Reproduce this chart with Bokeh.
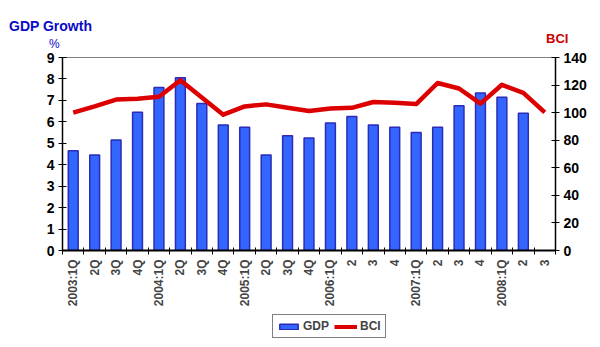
import math
from bokeh.plotting import figure
from bokeh.layouts import column
from bokeh.models import (Range1d, LinearAxis, FixedTicker, Legend, LegendItem, Div)
from bokeh.embed import file_html
from bokeh.resources import INLINE

quarters = ["2003:1Q", "2Q", "3Q", "4Q", "2004:1Q", "2Q", "3Q", "4Q",
            "2005:1Q", "2Q", "3Q", "4Q", "2006:1Q", "2", "3", "4",
            "2007:1Q", "2", "3", "4", "2008:1Q", "2", "3"]
gdp = [4.65, 4.45, 5.15, 6.45, 7.6, 8.05, 6.85, 5.85, 5.75, 4.45, 5.35, 5.25,
       5.95, 6.25, 5.85, 5.75, 5.5, 5.75, 6.75, 7.35, 7.15, 6.4]
bci = [100, 104.5, 109.5, 110, 111.5, 123.5, 111, 98.5, 104.5, 106, 103.5, 101.2,
       103, 103.5, 107.7, 107.2, 106.2, 121.5, 117.5, 106.5, 120.2, 114.4, 100.2]

FONT = "Arial"
BAR_FILL = "#3366FF"
BAR_LINE = "#2B2BB8"
LINE_COLOR = "#DD0000"

xs_gdp = list(range(len(gdp)))
xs_bci = list(range(len(bci)))

# header strip with the titles
header_html = (
    '<div style="position:relative;width:600px;height:50px;font-family:Arial;">'
    '<span style="position:absolute;left:9px;top:19px;font-size:14px;line-height:14px;'
    'font-weight:bold;color:#0A0AC8;white-space:nowrap;">GDP Growth</span>'
    '<span style="position:absolute;left:49px;top:38px;font-size:12px;line-height:12px;'
    'color:#0A0AC8;">%</span>'
    '<span style="position:absolute;left:546px;top:32px;font-size:13px;line-height:13px;'
    'font-weight:bold;color:#CC0000;">BCI</span>'
    '</div>'
)
header = Div(text=header_html, width=600, height=50, margin=0)

p = figure(width=600, height=260, output_backend="svg", toolbar_location=None,
           x_range=Range1d(-0.5, len(quarters) - 0.5), y_range=Range1d(0, 9),
           min_border_left=62, min_border_right=45, min_border_top=7,
           min_border_bottom=60, x_axis_location=None, y_axis_location=None)
p.background_fill_color = "white"
p.border_fill_color = "white"
p.outline_line_color = "#808080"
p.outline_line_width = 1
p.xgrid.visible = False
p.ygrid.visible = False
p.extra_y_ranges = {"bci": Range1d(0, 140)}

yl = LinearAxis(ticker=FixedTicker(ticks=list(range(0, 10))))
yr = LinearAxis(y_range_name="bci", ticker=FixedTicker(ticks=list(range(0, 141, 20))))
for ax in (yl, yr):
    ax.axis_line_color = "black"
    ax.axis_line_width = 1.5
    ax.major_tick_in = 4
    ax.major_tick_out = 4
    ax.minor_tick_line_color = None
    ax.major_label_text_font = FONT
    ax.major_label_text_font_style = "bold"
    ax.major_label_text_font_size = "14px"
    ax.major_label_text_color = "black"
    ax.major_label_standoff = 4
p.add_layout(yl, "left")
p.add_layout(yr, "right")

xa = LinearAxis(ticker=FixedTicker(ticks=xs_bci,
                                   minor_ticks=[i - 0.5 for i in range(len(quarters) + 1)]))
xa.major_label_overrides = {i: q for i, q in enumerate(quarters)}
xa.major_label_orientation = math.pi / 2
xa.axis_line_color = "black"
xa.axis_line_width = 2
xa.major_tick_in = 0
xa.major_tick_out = 0
xa.minor_tick_in = 3
xa.minor_tick_out = 4
xa.minor_tick_line_color = "black"
xa.minor_tick_line_width = 1
xa.major_label_text_font = FONT
xa.major_label_text_font_style = "bold"
xa.major_label_text_font_size = "12px"
xa.major_label_standoff = 5
p.add_layout(xa, "below")

p.vbar(x=xs_gdp, top=gdp, width=0.46, bottom=0,
       fill_color=BAR_FILL, line_color=BAR_LINE, line_width=1.5)
p.line(x=xs_bci, y=bci, y_range_name="bci", line_color=LINE_COLOR,
       line_width=4.5, line_join="round")

# legend strip
q = figure(width=600, height=37, output_backend="svg", toolbar_location=None,
           x_range=Range1d(0, 1), y_range=Range1d(0, 1),
           min_border_left=0, min_border_right=0, min_border_top=0,
           min_border_bottom=0, x_axis_location=None, y_axis_location=None)
q.outline_line_color = None
q.xgrid.visible = False
q.ygrid.visible = False
nan = float("nan")
lb = q.vbar(x=[nan], top=[nan], width=0.5, fill_color=BAR_FILL, line_color=BAR_LINE,
            line_width=1.5)
ll = q.line(x=[nan, nan], y=[nan, nan], line_color=LINE_COLOR, line_width=4)
legend = Legend(items=[LegendItem(label="GDP", renderers=[lb]),
                       LegendItem(label="BCI", renderers=[ll])],
                orientation="horizontal", location=(210, 9),
                border_line_color="black", border_line_width=1.5,
                label_text_font=FONT, label_text_font_style="bold",
                label_text_font_size="12px", glyph_width=23, glyph_height=7,
                spacing=5, padding=4, margin=0, label_standoff=3,
                label_height=12)
q.add_layout(legend, "center")

open("out.html", "w").write(file_html(column(header, p, q, spacing=0), INLINE))
